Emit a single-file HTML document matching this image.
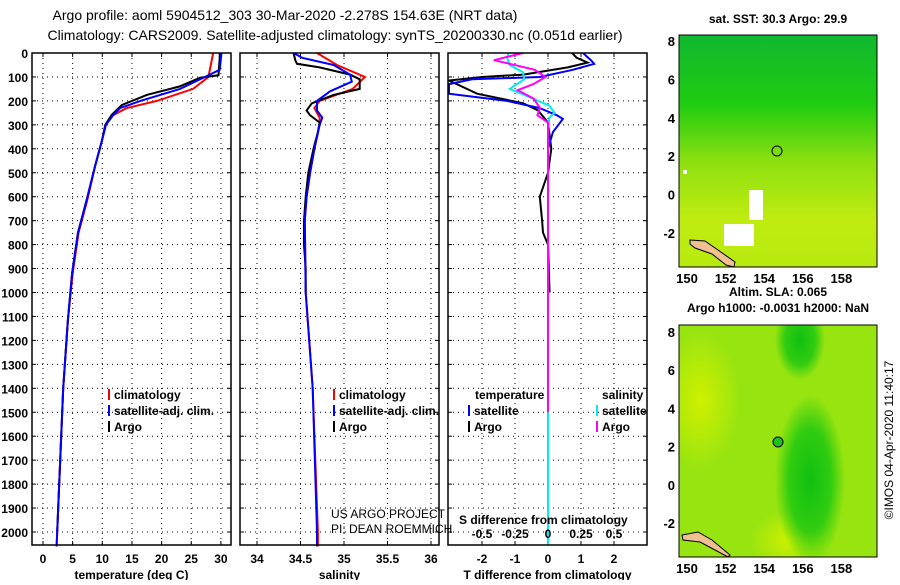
<!DOCTYPE html>
<html><head><meta charset="utf-8"><style>
body{margin:0;background:#fff;width:900px;height:580px;overflow:hidden}
svg text{font-family:"Liberation Sans",sans-serif}
</style></head><body>
<svg id="c" width="900" height="580" xmlns="http://www.w3.org/2000/svg">
<defs>
<linearGradient id="g1" x1="0" y1="0" x2="0" y2="1">
<stop offset="0" stop-color="#10b830"/><stop offset="0.3" stop-color="#20cc10"/><stop offset="0.55" stop-color="#8ee010"/><stop offset="0.8" stop-color="#c0ec10"/><stop offset="1" stop-color="#b8ea10"/></linearGradient>
<radialGradient id="g2" cx="0.5" cy="0.5" r="0.5"><stop offset="0" stop-color="#10c010"/><stop offset="0.6" stop-color="#30cc10"/><stop offset="1" stop-color="#30cc10" stop-opacity="0"/></radialGradient>
<radialGradient id="g3" cx="0.5" cy="0.5" r="0.5"><stop offset="0" stop-color="#d0f000"/><stop offset="1" stop-color="#d0f000" stop-opacity="0"/></radialGradient>
<clipPath id="mc2"><rect x="679" y="325" width="198" height="232"/></clipPath>
</defs>
<text x="285" y="20" font-size="14" text-anchor="middle">Argo profile: aoml 5904512_303 30-Mar-2020 -2.278S 154.63E (NRT data)</text>
<text x="335" y="40" font-size="14" text-anchor="middle">Climatology: CARS2009. Satellite-adjusted climatology: synTS_20200330.nc (0.051d earlier)</text>
<g id="plots"></g>
<g>
<text x="778" y="23" font-size="12" font-weight="bold" text-anchor="middle">sat. SST: 30.3 Argo: 29.9</text>
<rect x="679" y="35" width="198" height="232" fill="url(#g1)"/>
<rect x="724" y="224" width="30" height="22" fill="#fff"/><rect x="749" y="190" width="14" height="30" fill="#fff"/><rect x="683" y="170" width="4" height="4" fill="#fff"/>
<polygon points="690,240 705,241 718,250 735,262 734,267 726,265 712,254 695,248 690,244" fill="#f0c090" stroke="#000" stroke-width="1"/>
<circle cx="777" cy="151" r="5" fill="none" stroke="#000"/>
<rect x="679" y="35" width="198" height="232" fill="none" stroke="#000"/>
<text x="778" y="296" font-size="12" font-weight="bold" text-anchor="middle">Altim. SLA: 0.065</text>
<text x="778" y="312" font-size="12" font-weight="bold" text-anchor="middle">Argo h1000: -0.0031 h2000: NaN</text>
</g>
<g>
<rect x="679" y="325" width="198" height="232" fill="#98e410"/>
<g clip-path="url(#mc2)">
<ellipse cx="700" cy="400" rx="40" ry="70" fill="url(#g3)"/>
<ellipse cx="790" cy="540" rx="40" ry="30" fill="url(#g3)"/>
<ellipse cx="810" cy="480" rx="35" ry="85" fill="url(#g2)"/>
<ellipse cx="800" cy="340" rx="25" ry="40" fill="url(#g2)"/>
</g>
<polygon points="682,535 698,532 712,540 730,555 728,557 715,550 700,542 683,540" fill="#f0c090" stroke="#000"/>
<circle cx="778" cy="442" r="5" fill="#20c020" stroke="#000"/>
<rect x="679" y="325" width="198" height="232" fill="none" stroke="#000"/>
</g>
<text transform="translate(893,440) rotate(-90)" font-size="12" text-anchor="middle">©IMOS 04-Apr-2020 11:40:17</text>
</svg>
<script>
const depthTicks=[0,100,200,300,400,500,600,700,800,900,1000,1100,1200,1300,1400,1500,1600,1700,1800,1900,2000];
const tempTicks=[0,5,10,15,20,25,30];
const salTicks=[34,34.5,35,35.5,36];
const dTTicks=[-2,-1,0,1,2];
const dSTicks=[-0.5,-0.25,0,0.25,0.5];
const latTicks=[8,6,4,2,0,-2];
const lonTicks=[150,152,154,156,158];
const tempArgoD=[0,20,93,103,140,175,217,258,300,370,470,610,750,920,1115,1400,2000];
const tempArgo=[29.8,29.8,29.6,26.5,23,17.5,13.3,11.6,10.5,9.9,8.8,7.4,5.9,4.9,4.2,3.4,2.4];
const tempClimD=[0,100,150,200,230,260,300,370,470,610,750,920,1115,1400,2000,2060];
const tempClim=[28.7,27.9,25.3,19.2,14.1,11.8,10.6,9.9,8.8,7.5,6.0,5.0,4.2,3.4,2.4,2.3];
const tempSatD=[0,70,100,150,200,230,260,300,370,470,610,750,920,1115,1400,2000,2060];
const tempSat=[30.1,29.8,27.3,23.1,16.4,13,11.8,10.6,9.9,8.8,7.4,5.9,4.9,4.2,3.4,2.4,2.3];
const salArgoD=[0,30,45,60,90,110,150,175,210,240,260,290,330,400,500,600,700,800,900,1000];
const salArgo=[34.42,34.44,34.46,34.72,35.07,35.18,35.18,34.88,34.63,34.57,34.61,34.72,34.70,34.65,34.59,34.56,34.54,34.54,34.56,34.56];
const salClimD=[0,50,100,150,200,230,270,300,400,500,600,700,1000,1400,2000,2060];
const salClim=[34.69,34.92,35.24,35.10,34.72,34.66,34.72,34.72,34.66,34.61,34.57,34.55,34.56,34.64,34.70,34.70];
const salSatD=[0,20,50,90,120,160,200,240,270,300,400,500,600,700,1000,1400,2000,2060];
const salSat=[34.42,34.52,34.88,35.07,35.09,34.84,34.69,34.69,34.75,34.72,34.66,34.61,34.57,34.55,34.56,34.64,34.69,34.69];
const dTArgoD=[0,20,40,60,90,100,115,170,210,240,290,400,500,600,700,750,800,1000];
const dTArgo=[0.73,0.87,1.2,0.6,-0.75,-2,-3,-2.15,-0.75,-0.3,0,0.1,0,-0.25,-0.18,-0.15,0,0.05];
const dTSatD=[0,30,45,70,100,110,130,170,200,230,260,275,330,400,500,1000,2000,2060];
const dTSat=[1.06,1.3,1.4,0.75,-0.25,-2.3,-3,-3,-1.25,-0.25,0.27,0.45,0.15,0,0,0,0,0];
const dSSatD=[0,20,50,80,110,150,180,220,250,270,330,1000,2000,2060];
const dSSat=[-0.3,-0.31,-0.29,-0.19,-0.18,-0.29,-0.16,0.01,0.05,0.01,0,0,0,0];
const dSArgoD=[0,30,45,70,100,130,155,190,230,260,290,400,1000,1500];
const dSArgo=[-0.19,-0.41,-0.29,-0.1,-0.02,-0.11,-0.23,-0.11,-0.06,-0.08,0,0,0,0];

const NS='http://www.w3.org/2000/svg';
const G=document.getElementById('plots');
function mk(t,a,p){const e=document.createElementNS(NS,t);for(const k in a)e.setAttribute(k,a[k]);(p||G).appendChild(e);return e;}
const yD=d=>53+d*0.2395;
const xT=t=>43+t*5.93;
const xS=s=>257+(s-34)*87;
const xDT=v=>548+v*33;
const xDS=v=>548+v*132;
const panels=[{x0:32,x1:231,ticks:tempTicks,f:xT,label:'temperature (deg C)'},{x0:240,x1:439,ticks:salTicks,f:xS,label:'salinity'},{x0:448,x1:647,ticks:dTTicks,f:xDT,label:'T difference from climatology'}];
panels.forEach((p,i)=>{
  const g=mk('g',{});
  
  
  depthTicks.forEach(d=>{mk('line',{x1:p.x0,x2:p.x1,y1:yD(d),y2:yD(d),stroke:'#000','stroke-dasharray':'1,4'},g);
    mk('line',{x1:p.x0,x2:p.x0+4,y1:yD(d),y2:yD(d),stroke:'#000'},g);mk('line',{x1:p.x1-4,x2:p.x1,y1:yD(d),y2:yD(d),stroke:'#000'},g);});
  p.ticks.forEach(t=>{const x=p.f(t);mk('line',{x1:x,x2:x,y1:53,y2:545,stroke:'#000','stroke-dasharray':'1,4'},g);
    mk('line',{x1:x,x2:x,y1:53,y2:57,stroke:'#000'},g);mk('line',{x1:x,x2:x,y1:541,y2:545,stroke:'#000'},g);
    const tx=mk('text',{x:x,y:563,'font-size':12,'font-weight':'bold','text-anchor':'middle'},g);tx.textContent=t;
    
    });
  const lb=mk('text',{x:(p.x0+p.x1)/2,y:579,'font-size':12,'font-weight':'bold','text-anchor':'middle'},g);lb.textContent=p.label;
  
  
});
depthTicks.forEach(d=>{const t=mk('text',{x:28,y:yD(d)+5,'font-size':12,'font-weight':'bold','text-anchor':'end'});t.textContent=d;
  
  });
function line(ds,vs,f,col,name,w){const pts=ds.map((d,i)=>f(vs[i]).toFixed(1)+','+yD(Math.min(d,2060)).toFixed(1)).join(' ');
  const l=mk('polyline',{points:pts,fill:'none',stroke:col,'stroke-width':w||2});
  
  }
const cp=mk('clipPath',{id:'cp3'});mk('rect',{x:448,y:53,width:199,height:492},cp);
line(tempClimD,tempClim,xT,'#f00','temp-climatology-line');
line(tempArgoD,tempArgo,xT,'#000','temp-argo-line');
line(tempSatD,tempSat,xT,'#00f','temp-satellite-line');
line(salClimD,salClim,xS,'#f00','sal-climatology-line');
line(salArgoD,salArgo,xS,'#000','sal-argo-line');
line(salSatD,salSat,xS,'#00f','sal-satellite-line');
const g3=mk('g',{'clip-path':'url(#cp3)'});
[[dTArgoD,dTArgo,xDT,'#000','dt-argo-line'],[dTSatD,dTSat,xDT,'#00f','dt-satellite-line'],[dSSatD,dSSat,xDS,'#0ee','ds-satellite-line'],[dSArgoD,dSArgo,xDS,'#f0f','ds-argo-line']].forEach(a=>{
  const pts=a[0].map((d,i)=>a[2](a[1][i]).toFixed(1)+','+yD(Math.min(d,2060)).toFixed(1)).join(' ');
  const l=mk('polyline',{points:pts,fill:'none',stroke:a[3],'stroke-width':2},g3);
  
  });
panels.forEach(p=>mk('rect',{x:p.x0,y:53,width:p.x1-p.x0,height:492,fill:'none',stroke:'#000','stroke-width':1.5}));
dSTicks.forEach(s=>{const t=mk('text',{x:xDS(s),y:538,'font-size':12,'font-weight':'bold','text-anchor':'middle'});t.textContent=s;
  
  });
function txt(x,y,s,name,extra){const t=mk('text',Object.assign({x:x,y:y,'font-size':12,'font-weight':'bold'},extra||{}));t.textContent=s;
  
  return t;}
txt(459,524,'S difference from climatology','s-diff-axis-title');
function leg(x,y,col,s,name){mk('rect',{x:x,y:y-10,width:2,height:11,fill:col});txt(x+6,y,s,name);}
leg(108,399,'#f00','climatology','legend-climatology');
leg(108,415,'#00f','satellite-adj. clim.','legend-satellite');
leg(108,431,'#000','Argo','legend-argo');
leg(333,399,'#f00','climatology','legend-climatology-2');
leg(333,415,'#00f','satellite-adj. clim.','legend-satellite-2');
leg(333,431,'#000','Argo','legend-argo-2');
txt(475,399,'temperature','legend-temperature-header');
txt(602,399,'salinity','legend-salinity-header');
leg(468,415,'#00f','satellite','legend-t-satellite');
leg(468,431,'#000','Argo','legend-t-argo');
leg(596,415,'#0ee','satellite','legend-s-satellite');
leg(596,431,'#f0f','Argo','legend-s-argo');
txt(331,518,'US ARGO PROJECT','project-label',{'font-weight':'normal'});
txt(331,533,'PI: DEAN ROEMMICH','pi-label',{'font-weight':'normal'});
[[35,41,19.2],[325,332,19.1]].forEach((m,mi)=>{
  latTicks.forEach(l=>{const y=m[1]+(8-l)*m[2];mk('line',{x1:679,x2:683,y1:y,y2:y,stroke:'#000'});mk('line',{x1:873,x2:877,y1:y,y2:y,stroke:'#000'});
    txt(675,y+5,l,'map-lat-label',{'text-anchor':'end','font-size':13});});
  lonTicks.forEach(l=>{const x=687+(l-150)*19.3;const yb=m[0]+232;mk('line',{x1:x,x2:x,y1:yb-4,y2:yb,stroke:'#000'});mk('line',{x1:x,x2:x,y1:m[0],y2:m[0]+4,stroke:'#000'});
    txt(x,yb+16,l,'map-lon-label',{'text-anchor':'middle','font-size':13});});
});
</script>
</body></html>
